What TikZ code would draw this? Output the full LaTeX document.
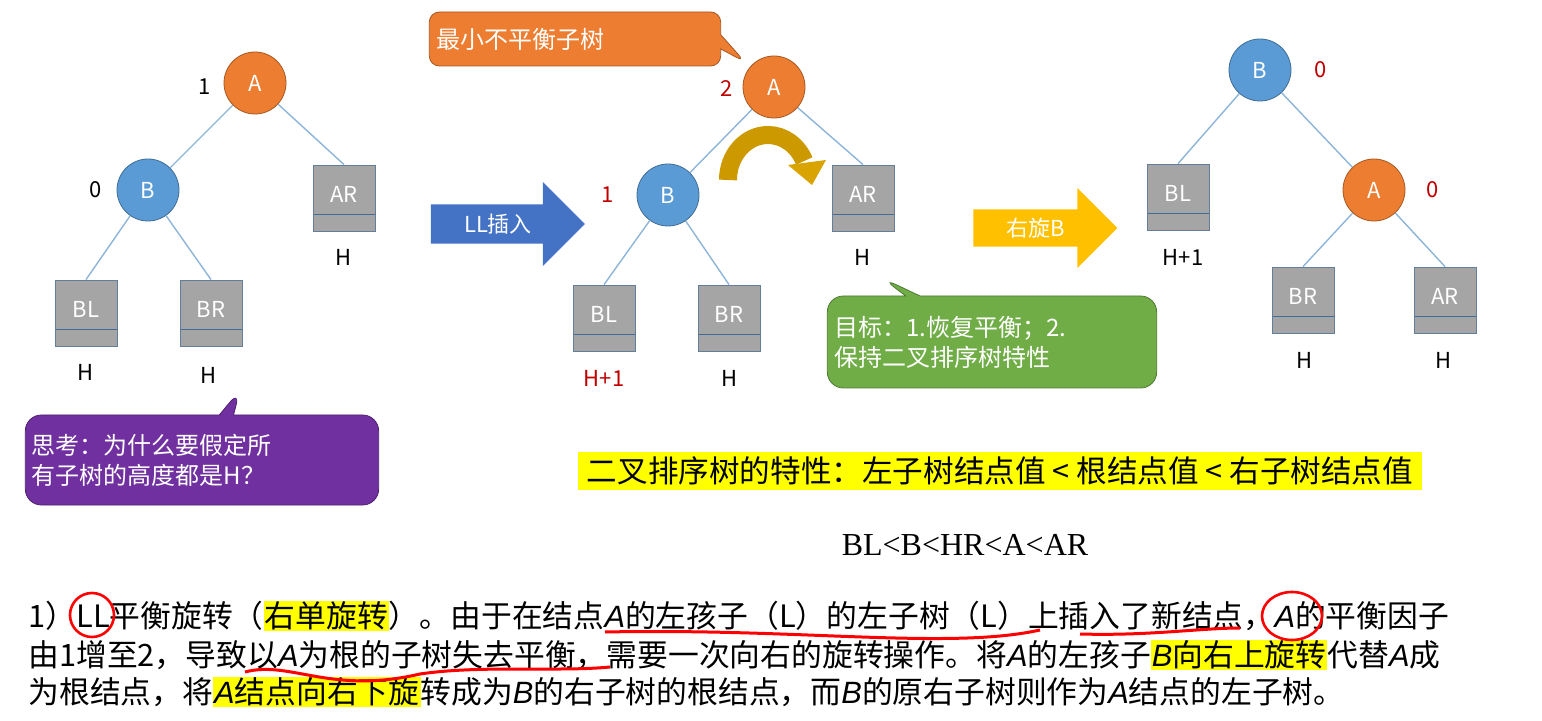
\documentclass[tikz,border=0pt]{standalone}
\usepackage{fontspec}
\setmainfont{Noto Sans CJK SC}
\newfontfamily\serifen{Liberation Serif}
\newfontfamily\lat{Liberation Sans}
\newcommand\ia[1]{{\lat\itshape #1}}
\usetikzlibrary{shapes.arrows,shapes.callouts}
\definecolor{aor}{HTML}{ED7D31}
\definecolor{bbl}{HTML}{5B9BD5}
\definecolor{dred}{HTML}{C00000}
\definecolor{gbox}{HTML}{A5A5A5}
\definecolor{ebl}{HTML}{8DB4D9}
\definecolor{pur}{HTML}{7030A0}
\definecolor{grn}{HTML}{70AD47}
\definecolor{gold}{HTML}{FFC000}
\definecolor{hl}{HTML}{FFFF00}
\definecolor{llb}{HTML}{4472C4}
\begin{document}
\begin{tikzpicture}[x=0.5pt,y=-0.5pt,
 anode/.style={circle,fill=aor,draw=aor!70!black,minimum size=31pt,inner sep=0pt,text=white,font=\fontsize{11}{11}\selectfont},
 bnode/.style={anode,fill=bbl,draw=bbl!70!black},
 sub/.style={rectangle,fill=gbox,draw=ebl!70!black,minimum width=31pt,minimum height=33pt,inner sep=0pt,text=white,font=\fontsize{11}{11}\selectfont,
   path picture={\draw[draw=bbl!70!black] ([yshift=8.5pt]path picture bounding box.south west) -- ([yshift=8.5pt]path picture bounding box.south east);}},
 lbl/.style={font=\fontsize{11}{11}\selectfont},
 rlbl/.style={lbl,text=dred},
 edge/.style={draw=ebl,line width=0.7pt},
 para/.style={anchor=west,font=\fontsize{15.4}{15.4}\selectfont,inner sep=0pt}]
\useasboundingbox (0,0) rectangle (1542,721);
\setlength\fboxsep{0.5pt}
% tree 1
\node[anode] (a1) at (255,83) {A};
\node[lbl] (f1) at (205,87) {1};
\node[bnode] (b1) at (148,190) {B};
\node[lbl] (f2) at (96,190) {0};
\node[sub] (ar1) at (344,198) {\raisebox{4pt}{AR}};
\node[lbl] (h1) at (344,257) {H};
\node[sub] (bl1) at (86,313) {\raisebox{4pt}{BL}};
\node[sub] (br1) at (211,313) {\raisebox{4pt}{BR}};
\node[lbl] (h2) at (86,372) {H};
\node[lbl] (h3) at (209,375) {H};
\draw[edge] (a1)--(b1); \draw[edge] (a1)--(ar1.north); \draw[edge] (b1)--(bl1.north); \draw[edge] (b1)--(br1.north);
% arrow 1
\node[single arrow,fill=llb,draw=none,minimum height=77pt,minimum width=42pt,single arrow head extend=6pt,inner sep=0pt,text=white,font=\fontsize{11}{11}\selectfont] (ar) at (498,224) {LL插入\hspace{14pt}};
% tree 2
\node[anode] (a2) at (774,87) {A};
\node[rlbl] (f3) at (727,89) {2};
\node[bnode] (b2) at (668,195) {B};
\node[rlbl] (f4) at (608,195) {1};
\node[sub] (ar2) at (863,198) {\raisebox{4pt}{AR}};
\node[lbl] (h4) at (862,257) {H};
\node[sub] (bl2) at (604,318) {\raisebox{4pt}{BL}};
\node[sub] (br2) at (729,318) {\raisebox{4pt}{BR}};
\node[rlbl] (h5) at (604,378) {H+1};
\node[lbl] (h6) at (729,378) {H};
\draw[edge] (a2)--(b2); \draw[edge] (a2)--(ar2.north); \draw[edge] (b2)--(bl2.north); \draw[edge] (b2)--(br2.north);
% callout top
\node[rectangle callout,rounded corners=5pt,fill=aor,draw=aor!70!black,text=white,minimum width=133pt,minimum height=27pt,font=\fontsize{12}{12}\selectfont,callout absolute pointer={(745,62)},align=left] (c1) at (575,39) {最小不平衡子树\hspace{55pt}};
% curved arrow
\draw[gold!80!black,line width=9pt] (728,180) arc[start angle=180,end angle=335,x radius=40,y radius=45];
\fill[gold!85!black] (788,165) -- (826,160) -- (812,185) -- cycle;
% green callout
\node[rectangle callout,rounded corners=8pt,fill=grn,draw=grn!70!black,text=white,text width=158pt,minimum height=46pt,font=\fontsize{12}{15}\selectfont,callout absolute pointer={(882,278)},align=left] (c2) at (992,342) {目标：1.恢复平衡；2.\\保持二叉排序树特性};
% arrow 2
\node[single arrow,fill=gold,draw=none,minimum height=72pt,minimum width=40pt,single arrow head extend=6pt,inner sep=0pt,text=white,font=\fontsize{11}{11}\selectfont] (ar3) at (1036,228) {右旋B\hspace{12pt}};
% tree 3
\node[bnode] (b3) at (1260,70) {B};
\node[rlbl] (f5) at (1321,70) {0};
\node[sub] (bl3) at (1178,197) {\raisebox{4pt}{BL}};
\node[lbl] (h7) at (1183,257) {H+1};
\node[anode] (a3) at (1374,190) {A};
\node[rlbl] (f6) at (1433,190) {0};
\node[sub] (br3) at (1303,300) {\raisebox{4pt}{BR}};
\node[sub] (ar3b) at (1445,300) {\raisebox{4pt}{AR}};
\node[lbl] (h8) at (1304,360) {H};
\node[lbl] (h9) at (1443,360) {H};
\draw[edge] (b3)--(bl3.north); \draw[edge] (b3)--(a3); \draw[edge] (a3)--(br3.north); \draw[edge] (a3)--(ar3b.north);
% purple callout
\node[rectangle callout,rounded corners=8pt,fill=pur,draw=pur!70!black,text=white,text width=170pt,minimum height=45pt,font=\fontsize{12}{15}\selectfont,callout absolute pointer={(240,390)},align=left] (c3) at (202,460) {思考：为什么要假定所\\有子树的高度都是H？};
% property
\node[fill=hl,inner sep=0pt,minimum width=422pt,minimum height=19pt,font=\fontsize{15.3}{15.3}\selectfont] (p1) at (1000,471) {二叉排序树的特性：左子树结点值 < 根结点值 < 右子树结点值};
\node[font=\serifen\fontsize{16}{16}\selectfont] (p2) at (965,545) {BL<B<HR<A<AR};
% paragraph
\node[para] (l1) at (28,616) {1）LL平衡旋转（\colorbox{hl}{右单旋转}）。由于在结点\ia{A}的左孩子（L）的左子树（L）上插入了新结点，\ia{A}的平衡因子};
\node[para] (l2) at (28,655) {由1增至2，导致以\ia{A}为根的子树失去平衡，需要一次向右的旋转操作。将\ia{A}的左孩子\colorbox{hl}{\ia{B}向右上旋转}代替\ia{A}成};
\node[para] (l3) at (28,692) {为根结点，将\colorbox{hl}{\ia{A}结点向右下旋}转成为\ia{B}的右子树的根结点，而\ia{B}的原右子树则作为\ia{A}结点的左子树。};
% red marks
\draw[red,line width=1.3pt] (92,615) ellipse[x radius=22,y radius=22];
\draw[red,line width=1.3pt] (1292,616) ellipse[x radius=30,y radius=24];
\draw[red,line width=1.5pt] (605,632) .. controls (800,628) and (950,650) .. (1040,630);
\draw[red,line width=1.5pt] (1080,634) .. controls (1150,636) and (1200,628) .. (1240,628);
\draw[red,line width=1.5pt] (245,672) .. controls (290,660) and (330,695) .. (420,674) .. controls (480,665) and (560,672) .. (610,667);
\end{tikzpicture}
\end{document}
